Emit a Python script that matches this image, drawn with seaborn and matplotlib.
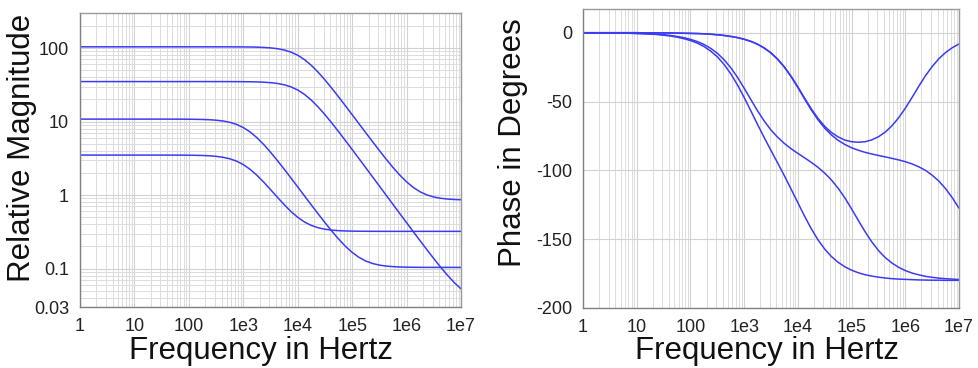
import numpy as np
import pandas as pd
import matplotlib
matplotlib.use('Agg')
import matplotlib.pyplot as plt
import seaborn as sns

# frequency grid (decade exponent, 1/8 decade steps)
decades = [i * 0.125 for i in range(57)]
freq = [10 ** e for e in decades]

# relative magnitude of the four responses
mag_a = [104, 104, 104, 104, 104, 104, 104, 104, 104, 104, 104, 104, 104, 104, 104, 104, 104, 104, 104, 104,
         104, 103.9, 103.9, 103.8, 103.6, 103.4, 102.9, 102.0, 100.6,
         98.12, 94.17, 88.2, 79.9, 69.57, 58.18, 46.96, 36.91, 28.48, 21.72, 16.45, 12.42, 9.36, 7.054,
         5.325, 4.035, 3.079, 2.378, 1.871, 1.513, 1.267, 1.106, 1.004, 0.9415, 0.9046, 0.8831, 0.8708, 0.8639]
mag_b = [35, 35, 35, 35, 35, 35, 35, 35, 35, 35, 35, 35, 35, 35, 35, 35, 35, 35, 35, 34.99,
         34.99, 34.98, 34.96, 34.93, 34.88, 34.79, 34.62, 34.34, 33.84,
         33.02, 31.69, 29.68, 26.89, 23.41, 19.58, 15.8, 12.42, 9.58, 7.304, 5.531, 4.17, 3.137, 2.357,
         1.769, 1.328, 0.9961, 0.7474, 0.5609, 0.4212, 0.3166, 0.2384, 0.18, 0.1367, 0.1047, 0.08138, 0.06466, 0.05299]
mag_c = [10.8, 10.8, 10.8, 10.8, 10.8, 10.8, 10.8, 10.8, 10.8, 10.8, 10.8, 10.8, 10.8, 10.79, 10.79, 10.78, 10.76, 10.73, 10.68, 10.6,
         10.44, 10.19, 9.78, 9.159, 8.297, 7.225, 6.042, 4.877, 3.833,
         2.958, 2.256, 1.71, 1.291, 0.9734, 0.7345, 0.5556, 0.4224, 0.3242, 0.2527, 0.2015, 0.166, 0.1421, 0.1267,
         0.1172, 0.1115, 0.1081, 0.1062, 0.1051, 0.1045, 0.1041, 0.1039, 0.1038, 0.1038, 0.1037, 0.1037, 0.1037, 0.1037]
mag_d = [3.5, 3.5, 3.5, 3.5, 3.5, 3.5, 3.5, 3.5, 3.5, 3.5, 3.5, 3.5, 3.5, 3.497, 3.495, 3.492, 3.486, 3.475, 3.456, 3.422,
         3.365, 3.27, 3.12, 2.898, 2.599, 2.241, 1.861, 1.501, 1.189,
         0.9364, 0.742, 0.599, 0.4982, 0.4301, 0.3863, 0.3592, 0.3429, 0.3335, 0.328, 0.3249, 0.3231, 0.3221, 0.3216,
         0.3212, 0.3211, 0.321, 0.3209, 0.3209, 0.3209, 0.3208, 0.3208, 0.3208, 0.3208, 0.3208, 0.3208, 0.3208, 0.3208]

# phase in degrees of the same four responses
phase_a = [0.0, 0.0, 0.0, 0.0, 0.0, 0.0, 0.0, 0.0, 0.0, -0.1, -0.1, -0.1, -0.1, -0.2, -0.3, -0.4, -0.5, -0.6, -0.8, -1.1,
           -1.5, -2.0, -2.7, -3.5, -4.7, -6.3, -8.4, -11.1, -14.6,
           -19.2, -24.9, -31.7, -39.4, -47.5, -55.3, -62.2, -68.0, -72.5, -75.7, -78.0, -79.2, -79.6, -79.2,
           -77.9, -75.6, -72.3, -67.7, -61.9, -54.9, -47.1, -39.0, -31.3, -24.6, -18.9, -14.4, -10.9, -8.2]
phase_b = [0.0, 0.0, 0.0, 0.0, 0.0, 0.0, 0.0, 0.0, 0.0, -0.1, -0.1, -0.1, -0.2, -0.2, -0.3, -0.4, -0.5, -0.6, -0.8, -1.1,
           -1.5, -2.0, -2.7, -3.6, -4.8, -6.3, -8.4, -11.2, -14.8,
           -19.4, -25.1, -32.0, -39.8, -48.1, -56.1, -63.3, -69.4, -74.3, -78.2, -81.2, -83.6, -85.4, -86.9,
           -88.1, -89.2, -90.2, -91.3, -92.4, -93.7, -95.3, -97.4, -100.0, -103.5, -107.8, -113.3, -119.9, -127.5]
phase_c = [0.0, -0.1, -0.1, -0.1, -0.2, -0.2, -0.3, -0.4, -0.5, -0.6, -0.9, -1.1, -1.5, -2.0, -2.7, -3.6, -4.8, -6.4, -8.5, -11.3,
           -14.9, -19.6, -25.4, -32.3, -40.3, -48.6, -56.8, -64.2, -70.7,
           -76.0, -80.5, -84.3, -87.7, -90.9, -94.2, -97.8, -102.0, -107.0, -113.0, -120.0, -128.0, -136.3, -144.5,
           -151.9, -158.2, -163.3, -167.3, -170.4, -172.8, -174.6, -175.9, -177.0, -177.7, -178.3, -178.7, -179.0, -179.3]
phase_d = [-0.1, -0.1, -0.1, -0.1, -0.2, -0.2, -0.3, -0.4, -0.6, -0.8, -1.0, -1.3, -1.8, -2.4, -3.2, -4.3, -5.7, -7.5, -10.0, -13.3,
           -17.5, -23.0, -29.8, -37.9, -47.0, -56.8, -66.7, -76.3, -85.6,
           -94.7, -104.0, -113.7, -123.5, -133.3, -142.4, -150.5, -157.2, -162.6, -166.8, -170.1, -172.5, -174.4, -175.8,
           -176.8, -177.6, -178.2, -178.7, -179.0, -179.2, -179.4, -179.6, -179.7, -179.8, -179.8, -179.9, -179.9, -179.9]

x_ticks = [1, 10, 100, 1e3, 1e4, 1e5, 1e6, 1e7]
x_tick_labels = ['1', '10', '100', '1e3', '1e4', '1e5', '1e6', '1e7']
mag_ticks = [0.03, 0.1, 1, 10, 100]
mag_tick_labels = ['0.03', '0.1', '1', '10', '100']
phase_ticks = [0, -50, -100, -150, -200]
phase_tick_labels = ['0', '-50', '-100', '-150', '-200']

sns.set_theme(style='white')
plt.rcParams['font.family'] = ['Liberation Sans', 'DejaVu Sans']

LINE = '#3b3bf2'
GRID_MAJ = '#d2d2d2'
GRID_MIN = '#dcdcdc'
SPINE = '#9a9a9a'

fig = plt.figure(figsize=(9.79, 3.68), dpi=100)
ax1 = fig.add_axes([80 / 979, 1 - 307 / 368, 381 / 979, 294 / 368])
ax2 = fig.add_axes([583 / 979, 1 - 308 / 368, 376 / 979, 298.7 / 368])

mag_df = pd.DataFrame({'freq': freq * 4,
                       'value': mag_a + mag_b + mag_c + mag_d,
                       'curve': ['A'] * 57 + ['B'] * 57 + ['C'] * 57 + ['D'] * 57})
ph_df = pd.DataFrame({'freq': freq * 4,
                      'value': phase_a + phase_b + phase_c + phase_d,
                      'curve': ['A'] * 57 + ['B'] * 57 + ['C'] * 57 + ['D'] * 57})

pal = {k: LINE for k in 'ABCD'}
sns.lineplot(data=mag_df, x='freq', y='value', hue='curve', palette=pal, estimator=None,
             sort=False, lw=1.1, legend=False, ax=ax1)
sns.lineplot(data=ph_df, x='freq', y='value', hue='curve', palette=pal, estimator=None,
             sort=False, lw=1.1, legend=False, ax=ax2)

for ax in (ax1, ax2):
    ax.set_xscale('log')
    ax.set_xlim(1, 1e7)
    ax.set_xticks(x_ticks)
    ax.set_xticklabels(x_tick_labels)
    ax.xaxis.set_minor_locator(matplotlib.ticker.LogLocator(base=10, subs=np.arange(2, 10), numticks=200))
    ax.xaxis.set_minor_formatter(matplotlib.ticker.NullFormatter())
    ax.tick_params(axis='both', which='major', direction='out', length=6, width=1,
                   color='#777777', labelsize=13, labelcolor='#222222', pad=2)
    ax.tick_params(axis='both', which='minor', length=0)
    for s in ax.spines.values():
        s.set_color(SPINE)
        s.set_linewidth(1.0)
    ax.spines['left'].set_color('#808080')
    ax.spines['bottom'].set_color('#808080')
    ax.set_xlabel('Frequency in Hertz', fontsize=22.5, color='#111111')
    ax.set_axisbelow(True)

ax1.set_yscale('log')
ax1.set_ylim(0.03, 300)
ax1.set_yticks(mag_ticks)
ax1.set_yticklabels(mag_tick_labels)
ax1.yaxis.set_minor_locator(matplotlib.ticker.LogLocator(base=10, subs=np.arange(2, 10), numticks=200))
ax1.yaxis.set_minor_formatter(matplotlib.ticker.NullFormatter())
ax1.grid(True, which='major', color=GRID_MAJ, lw=0.8)
ax1.grid(True, which='minor', color=GRID_MIN, lw=0.7)
ax1.set_ylabel('Relative Magnitude', fontsize=22.5, color='#111111')
ax1.yaxis.set_label_coords(-0.112, 0.541)
ax1.xaxis.set_label_coords(0.476, -0.098)
ax1.xaxis.label.set_va('top')

ax2.set_ylim(-200, 17)
ax2.set_yticks(phase_ticks)
ax2.set_yticklabels(phase_tick_labels)
ax2.grid(True, which='major', color=GRID_MAJ, lw=0.8)
ax2.grid(True, which='minor', axis='x', color=GRID_MIN, lw=0.7)
ax2.set_ylabel('Phase in Degrees', fontsize=22.5, color='#111111')
ax2.yaxis.set_label_coords(-0.146, 0.552)
ax2.xaxis.set_label_coords(0.49, -0.095)
ax2.xaxis.label.set_va('top')

fig.savefig('out.png', dpi=100)
